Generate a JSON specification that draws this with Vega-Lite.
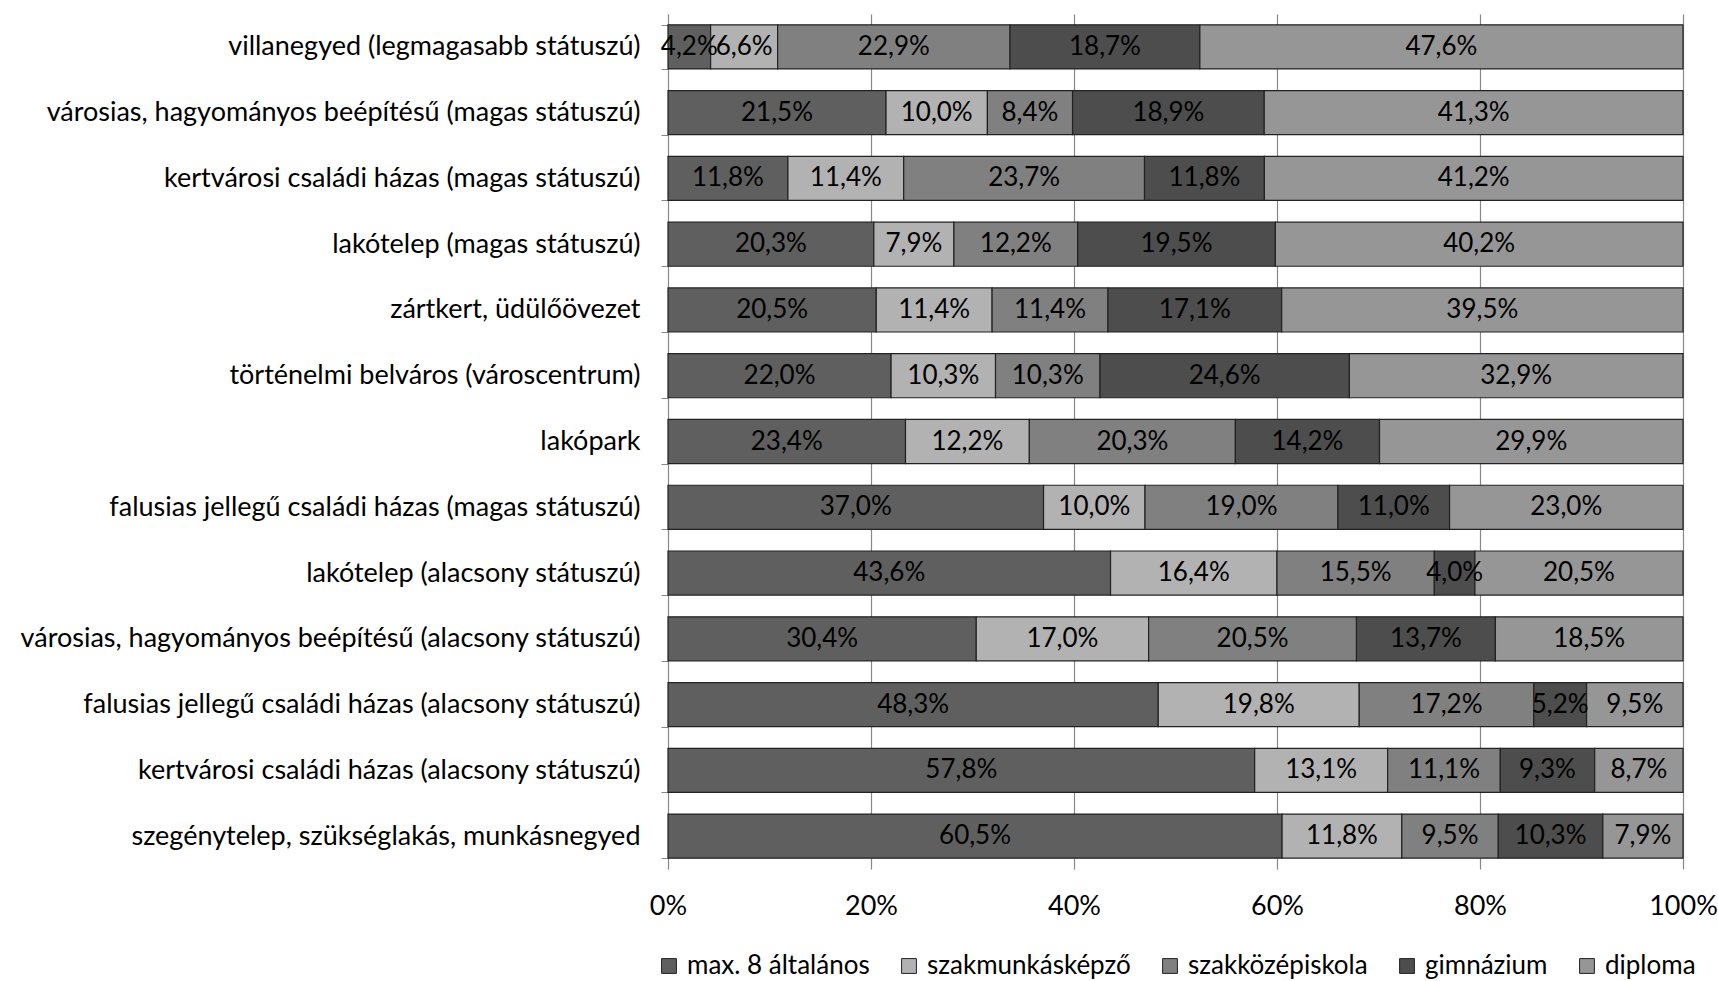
{
  "$schema": "https://vega.github.io/schema/vega-lite/v6.json",
  "width": 1015,
  "height": 855,
  "padding": {"left": 19, "top": 0, "right": 20, "bottom": 0},
  "background": "white",
  "config": {
    "locale": {"number": {"decimal": ",", "thousands": " ", "grouping": [3], "currency": ["", " Ft"]}},
    "font": "Lato",
    "view": {"stroke": null},
    "legend": {"layout": {"bottom": {"anchor": "middle"}}}
  },
  "data": {"values": [
    {"c": "villanegyed (legmagasabb státuszú)", "k": "max. 8 általános", "o": 1, "p": 0.042},
    {"c": "villanegyed (legmagasabb státuszú)", "k": "szakmunkásképző", "o": 2, "p": 0.066},
    {"c": "villanegyed (legmagasabb státuszú)", "k": "szakközépiskola", "o": 3, "p": 0.229},
    {"c": "villanegyed (legmagasabb státuszú)", "k": "gimnázium", "o": 4, "p": 0.187},
    {"c": "villanegyed (legmagasabb státuszú)", "k": "diploma", "o": 5, "p": 0.476},
    {"c": "városias, hagyományos beépítésű (magas státuszú)", "k": "max. 8 általános", "o": 1, "p": 0.215},
    {"c": "városias, hagyományos beépítésű (magas státuszú)", "k": "szakmunkásképző", "o": 2, "p": 0.100},
    {"c": "városias, hagyományos beépítésű (magas státuszú)", "k": "szakközépiskola", "o": 3, "p": 0.084},
    {"c": "városias, hagyományos beépítésű (magas státuszú)", "k": "gimnázium", "o": 4, "p": 0.189},
    {"c": "városias, hagyományos beépítésű (magas státuszú)", "k": "diploma", "o": 5, "p": 0.413},
    {"c": "kertvárosi családi házas (magas státuszú)", "k": "max. 8 általános", "o": 1, "p": 0.118},
    {"c": "kertvárosi családi házas (magas státuszú)", "k": "szakmunkásképző", "o": 2, "p": 0.114},
    {"c": "kertvárosi családi házas (magas státuszú)", "k": "szakközépiskola", "o": 3, "p": 0.237},
    {"c": "kertvárosi családi házas (magas státuszú)", "k": "gimnázium", "o": 4, "p": 0.118},
    {"c": "kertvárosi családi házas (magas státuszú)", "k": "diploma", "o": 5, "p": 0.412},
    {"c": "lakótelep (magas státuszú)", "k": "max. 8 általános", "o": 1, "p": 0.203},
    {"c": "lakótelep (magas státuszú)", "k": "szakmunkásképző", "o": 2, "p": 0.079},
    {"c": "lakótelep (magas státuszú)", "k": "szakközépiskola", "o": 3, "p": 0.122},
    {"c": "lakótelep (magas státuszú)", "k": "gimnázium", "o": 4, "p": 0.195},
    {"c": "lakótelep (magas státuszú)", "k": "diploma", "o": 5, "p": 0.402},
    {"c": "zártkert, üdülőövezet", "k": "max. 8 általános", "o": 1, "p": 0.205},
    {"c": "zártkert, üdülőövezet", "k": "szakmunkásképző", "o": 2, "p": 0.114},
    {"c": "zártkert, üdülőövezet", "k": "szakközépiskola", "o": 3, "p": 0.114},
    {"c": "zártkert, üdülőövezet", "k": "gimnázium", "o": 4, "p": 0.171},
    {"c": "zártkert, üdülőövezet", "k": "diploma", "o": 5, "p": 0.395},
    {"c": "történelmi belváros (városcentrum)", "k": "max. 8 általános", "o": 1, "p": 0.220},
    {"c": "történelmi belváros (városcentrum)", "k": "szakmunkásképző", "o": 2, "p": 0.103},
    {"c": "történelmi belváros (városcentrum)", "k": "szakközépiskola", "o": 3, "p": 0.103},
    {"c": "történelmi belváros (városcentrum)", "k": "gimnázium", "o": 4, "p": 0.246},
    {"c": "történelmi belváros (városcentrum)", "k": "diploma", "o": 5, "p": 0.329},
    {"c": "lakópark", "k": "max. 8 általános", "o": 1, "p": 0.234},
    {"c": "lakópark", "k": "szakmunkásképző", "o": 2, "p": 0.122},
    {"c": "lakópark", "k": "szakközépiskola", "o": 3, "p": 0.203},
    {"c": "lakópark", "k": "gimnázium", "o": 4, "p": 0.142},
    {"c": "lakópark", "k": "diploma", "o": 5, "p": 0.299},
    {"c": "falusias jellegű családi házas (magas státuszú)", "k": "max. 8 általános", "o": 1, "p": 0.370},
    {"c": "falusias jellegű családi házas (magas státuszú)", "k": "szakmunkásképző", "o": 2, "p": 0.100},
    {"c": "falusias jellegű családi házas (magas státuszú)", "k": "szakközépiskola", "o": 3, "p": 0.190},
    {"c": "falusias jellegű családi házas (magas státuszú)", "k": "gimnázium", "o": 4, "p": 0.110},
    {"c": "falusias jellegű családi házas (magas státuszú)", "k": "diploma", "o": 5, "p": 0.230},
    {"c": "lakótelep (alacsony státuszú)", "k": "max. 8 általános", "o": 1, "p": 0.436},
    {"c": "lakótelep (alacsony státuszú)", "k": "szakmunkásképző", "o": 2, "p": 0.164},
    {"c": "lakótelep (alacsony státuszú)", "k": "szakközépiskola", "o": 3, "p": 0.155},
    {"c": "lakótelep (alacsony státuszú)", "k": "gimnázium", "o": 4, "p": 0.040},
    {"c": "lakótelep (alacsony státuszú)", "k": "diploma", "o": 5, "p": 0.205},
    {"c": "városias, hagyományos beépítésű (alacsony státuszú)", "k": "max. 8 általános", "o": 1, "p": 0.304},
    {"c": "városias, hagyományos beépítésű (alacsony státuszú)", "k": "szakmunkásképző", "o": 2, "p": 0.170},
    {"c": "városias, hagyományos beépítésű (alacsony státuszú)", "k": "szakközépiskola", "o": 3, "p": 0.205},
    {"c": "városias, hagyományos beépítésű (alacsony státuszú)", "k": "gimnázium", "o": 4, "p": 0.137},
    {"c": "városias, hagyományos beépítésű (alacsony státuszú)", "k": "diploma", "o": 5, "p": 0.185},
    {"c": "falusias jellegű családi házas (alacsony státuszú)", "k": "max. 8 általános", "o": 1, "p": 0.483},
    {"c": "falusias jellegű családi házas (alacsony státuszú)", "k": "szakmunkásképző", "o": 2, "p": 0.198},
    {"c": "falusias jellegű családi házas (alacsony státuszú)", "k": "szakközépiskola", "o": 3, "p": 0.172},
    {"c": "falusias jellegű családi házas (alacsony státuszú)", "k": "gimnázium", "o": 4, "p": 0.052},
    {"c": "falusias jellegű családi házas (alacsony státuszú)", "k": "diploma", "o": 5, "p": 0.095},
    {"c": "kertvárosi családi házas (alacsony státuszú)", "k": "max. 8 általános", "o": 1, "p": 0.578},
    {"c": "kertvárosi családi házas (alacsony státuszú)", "k": "szakmunkásképző", "o": 2, "p": 0.131},
    {"c": "kertvárosi családi házas (alacsony státuszú)", "k": "szakközépiskola", "o": 3, "p": 0.111},
    {"c": "kertvárosi családi házas (alacsony státuszú)", "k": "gimnázium", "o": 4, "p": 0.093},
    {"c": "kertvárosi családi házas (alacsony státuszú)", "k": "diploma", "o": 5, "p": 0.087},
    {"c": "szegénytelep, szükséglakás, munkásnegyed", "k": "max. 8 általános", "o": 1, "p": 0.605},
    {"c": "szegénytelep, szükséglakás, munkásnegyed", "k": "szakmunkásképző", "o": 2, "p": 0.118},
    {"c": "szegénytelep, szükséglakás, munkásnegyed", "k": "szakközépiskola", "o": 3, "p": 0.095},
    {"c": "szegénytelep, szükséglakás, munkásnegyed", "k": "gimnázium", "o": 4, "p": 0.103},
    {"c": "szegénytelep, szükséglakás, munkásnegyed", "k": "diploma", "o": 5, "p": 0.079}
  ]},
  "encoding": {
    "y": {
      "field": "c", "type": "nominal", "sort": null, "title": null,
      "scale": {"paddingInner": 0.33, "paddingOuter": 0.165},
      "axis": {"labelFontSize": 27, "labelColor": "#000", "labelPadding": 21, "labelLimit": 800,
               "tickBand": "extent", "tickSize": 7, "tickColor": "#888", "domainColor": "#888", "grid": false}
    },
    "x": {
      "field": "p", "type": "quantitative", "stack": "normalize", "title": null,
      "scale": {"domain": [0, 1]},
      "axis": {"format": "%", "values": [0, 0.2, 0.4, 0.6, 0.8, 1], "labelFontSize": 27, "labelColor": "#000",
               "labelFlush": false, "labelPadding": 24, "ticks": false, "domain": false, "grid": true,
               "gridColor": "#888", "gridWidth": 1.2}
    },
    "order": {"field": "o", "type": "quantitative"}
  },
  "layer": [
    {
      "mark": {"type": "bar", "stroke": "#222", "strokeWidth": 1.2},
      "encoding": {
        "color": {
          "field": "k", "type": "nominal", "title": null,
          "scale": {
            "domain": ["max. 8 általános", "szakmunkásképző", "szakközépiskola", "gimnázium", "diploma"],
            "range": ["#5f5f5f", "#b2b2b2", "#808080", "#4d4d4d", "#969696"]
          },
          "legend": {"orient": "bottom", "direction": "horizontal", "symbolType": "square", "symbolSize": 220,
                     "symbolStrokeColor": "#222", "symbolStrokeWidth": 1, "labelFontSize": 26, "labelColor": "#000",
                     "labelLimit": 400, "columnPadding": 26, "offset": 34, "labelOffset": 5}
        }
      }
    },
    {
      "mark": {"type": "text", "fontSize": 26, "color": "#000", "baseline": "middle", "align": "center"},
      "encoding": {
        "x": {"field": "p", "type": "quantitative", "stack": "normalize", "bandPosition": 0.5},
        "text": {"field": "p", "type": "quantitative", "format": ".1%"}
      }
    }
  ]
}
